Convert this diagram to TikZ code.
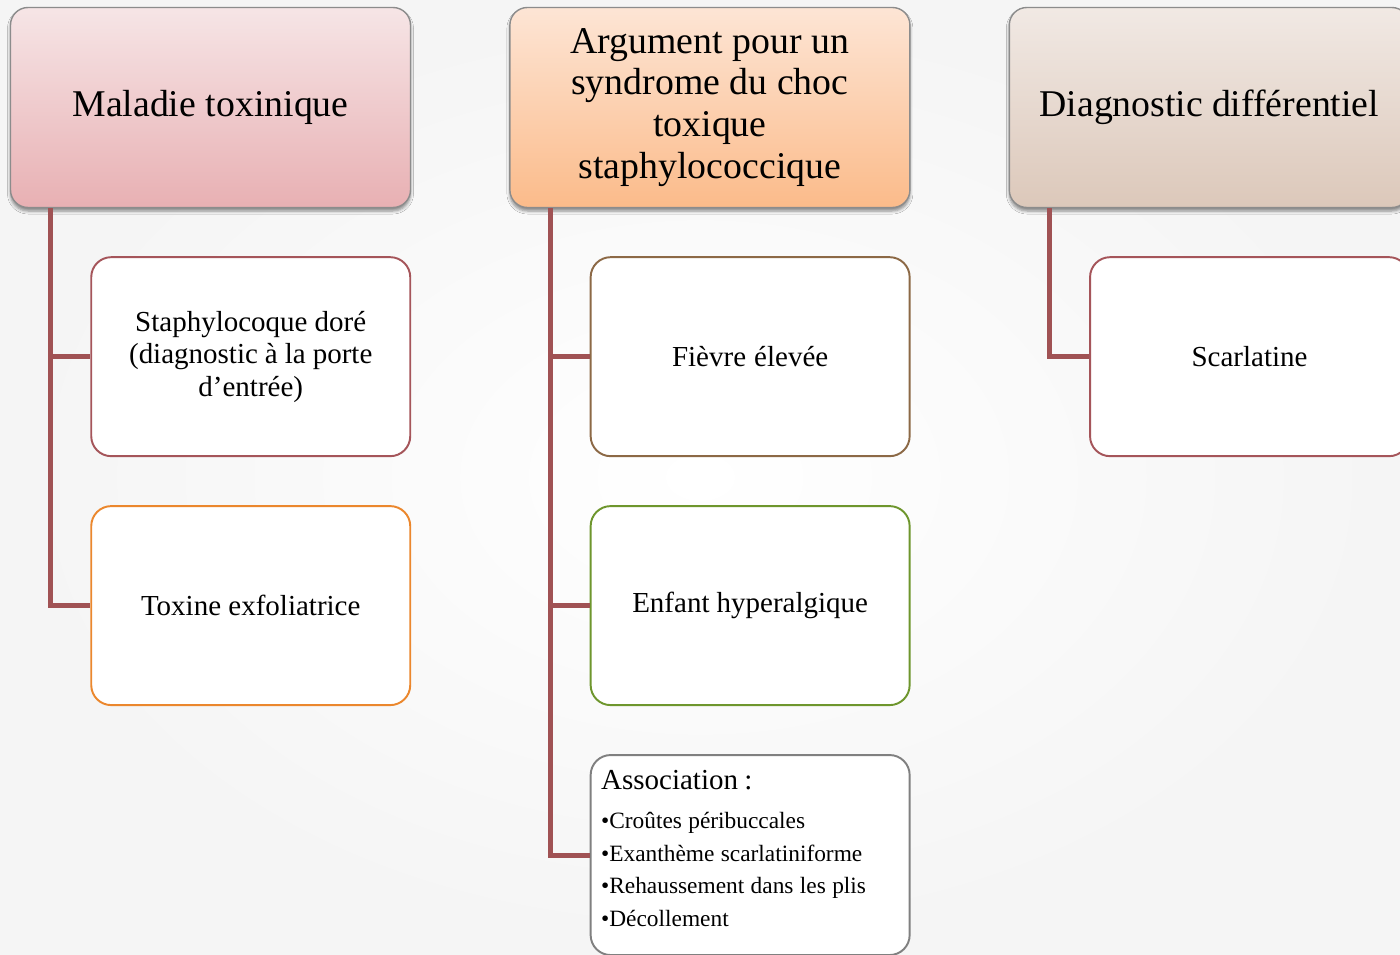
\documentclass[tikz,border=0pt]{standalone}
\usepackage{fontspec}
\setmainfont{Liberation Serif}
\usepackage{xcolor}
\usetikzlibrary{positioning,shadows,shadows.blur}

\definecolor{linkred}{RGB}{160,82,84}
\definecolor{rosebd}{RGB}{165,85,90}
\definecolor{orangebd}{RGB}{235,135,45}
\definecolor{brownbd}{RGB}{140,105,70}
\definecolor{greenbd}{RGB}{110,150,45}
\definecolor{graybd}{RGB}{128,128,128}
\newcommand{\tightsp}{\spaceskip=0.22em plus 0.05em minus 0.02em\relax}

\begin{document}
\begin{tikzpicture}
	[node distance = 0.96cm, font=\fontsize{16.5}{18.5}\selectfont,
		execute at begin node=\tightsp,
		% STYLES
		% The headbox style is used for the three titles on top
		headbox/.style={rectangle, rounded corners=0.35cm, draw=black!45,
				line width=0.8pt, minimum width=8.0cm, minimum height=4.0cm,
				text width=7.6cm, align=center, font=\fontsize{21.5}{23.8}\selectfont,
				blur shadow={shadow xshift=0pt, shadow yshift=-0.07cm,
						shadow blur steps=5, shadow blur radius=0.06cm, shadow opacity=45}},
		% The itembox style is used for the boxes below each title
		itembox/.style={rectangle, rounded corners=0.4cm, draw=#1,
				line width=1.1pt, fill=white, minimum width=6.38cm,
				minimum height=3.98cm, text width=5.9cm, align=center},
		branch/.style={draw=linkred, line width=0.1cm}]

	% Background
	\fill[inner color=white, outer color=black!4] (0,0) rectangle (28,-19.08);
	\useasboundingbox (0,0) rectangle (28,-19.08);

	% Draw titles
	\node [headbox, top color={rgb,255:red,246;green,229;blue,230},
			bottom color={rgb,255:red,232;green,176;blue,179}]
		(mal) at (4.21,-2.15) {Maladie toxinique};
	\node [headbox, top color={rgb,255:red,253;green,229;blue,213},
			bottom color={rgb,255:red,251;green,187;blue,138}, right=1.96cm of mal] (arg) {
		Argument pour un\\syndrome du choc\\toxique\\staphylococcique
	};
	\node [headbox, top color={rgb,255:red,241;green,233;blue,228},
			bottom color={rgb,255:red,220;green,200;blue,186}, right=1.96cm of arg] (dia)
		{Diagnostic différentiel};

	% Draw boxes below titles
	\node [itembox=rosebd, below left=0.96cm and 0cm of mal.south east] (staph) {
		Staphylocoque doré\\(diagnostic à la porte\\d’entrée)
	};
	\node [itembox=orangebd, below=of staph] (toxine) {Toxine exfoliatrice};

	\node [itembox=brownbd, below left=0.96cm and 0cm of arg.south east] (fievre) {Fièvre élevée};
	\node [itembox=greenbd, below=of fievre] (enfant) {Enfant hyperalgique};
	\node [itembox=graybd, below=of enfant, text width=5.96cm, align=left,
		inner xsep=0.2cm, inner ysep=0.3cm] (assoc) {
		\parbox[c][3.4cm][t]{5.96cm}{\tightsp
			{\fontsize{16.5}{19}\selectfont Association :}\par\vspace{4pt}
			{\fontsize{13.3}{17}\selectfont
				•Croûtes péribuccales\\
				•Exanthème scarlatiniforme\\
				•Rehaussement dans les plis\\
				•Décollement}
		}
	};

	\node [itembox=rosebd, below left=0.96cm and 0cm of dia.south east] (scarl) {Scarlatine};

	% Draw branches
	\draw[branch] ([xshift=0.82cm]mal.south west) |- (staph.west);
	\draw[branch] ([xshift=0.82cm]mal.south west) |- (toxine.west);
	\draw[branch] ([xshift=0.82cm]arg.south west) |- (fievre.west);
	\draw[branch] ([xshift=0.82cm]arg.south west) |- (enfant.west);
	\draw[branch] ([xshift=0.82cm]arg.south west) |- (assoc.west);
	\draw[branch] ([xshift=0.82cm]dia.south west) |- (scarl.west);
\end{tikzpicture}
\end{document}
